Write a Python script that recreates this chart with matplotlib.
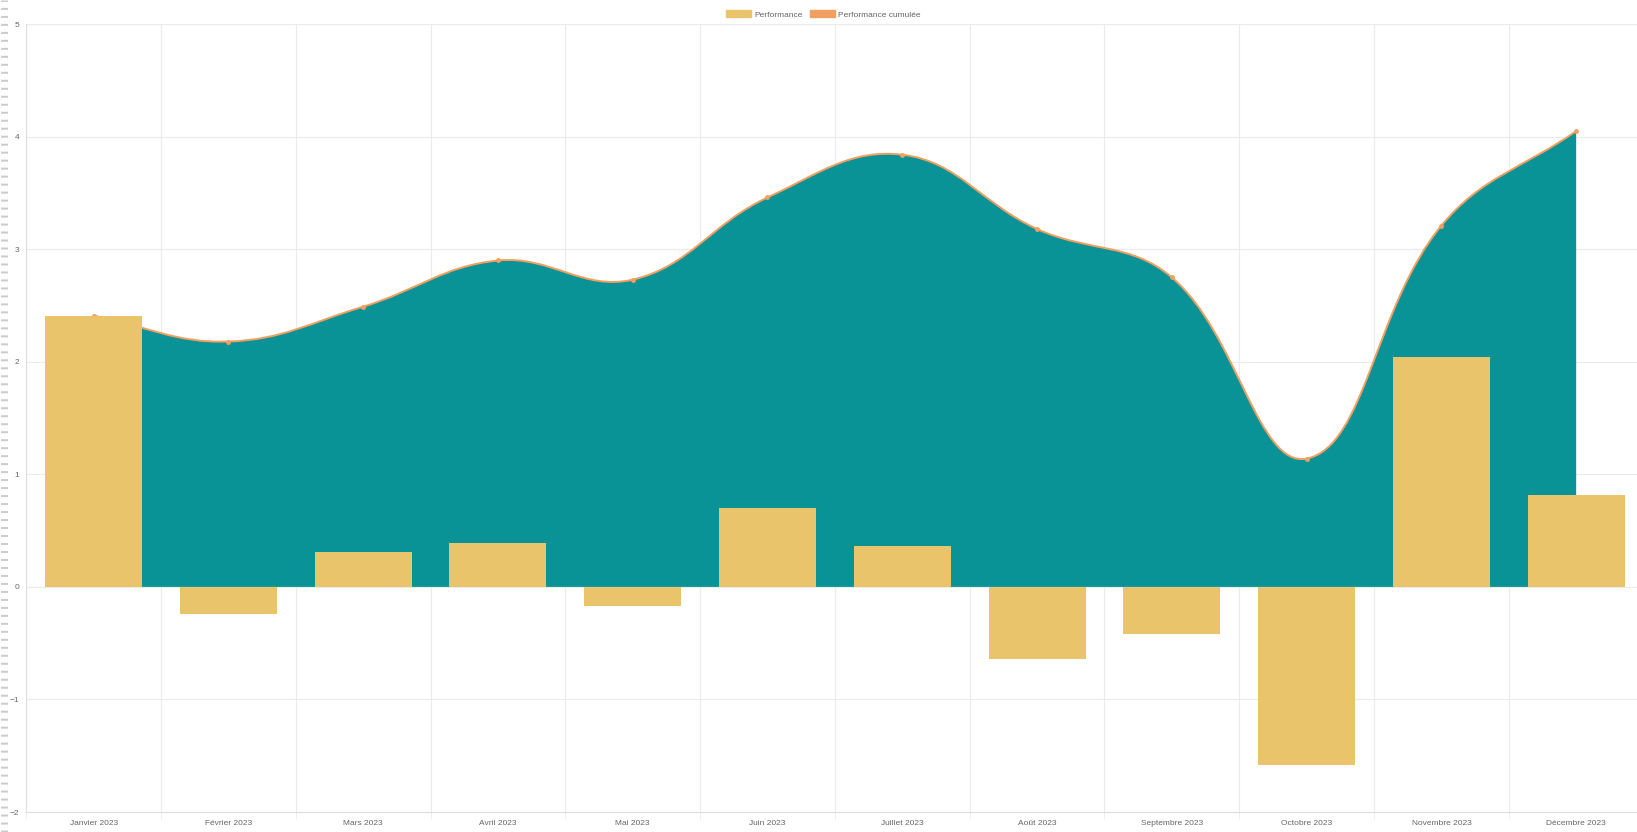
import numpy as np
import matplotlib
matplotlib.use("Agg")
import matplotlib.pyplot as plt
from matplotlib.path import Path
from matplotlib.patches import PathPatch, Patch
from matplotlib.lines import Line2D

mois = ["Janvier 2023", "Février 2023", "Mars 2023", "Avril 2023", "Mai 2023", "Juin 2023",
        "Juillet 2023", "Août 2023", "Septembre 2023", "Octobre 2023", "Novembre 2023", "Décembre 2023"]
performance = [2.41, -0.24, 0.31, 0.39, -0.17, 0.70, 0.36, -0.64, -0.42, -1.58, 2.04, 0.82]
cumulee = [2.41, 2.18, 2.49, 2.90, 2.73, 3.46, 3.84, 3.18, 2.75, 1.14, 3.21, 4.05]

c_bar = "#E9C46A"
c_line = "#F2A062"
c_fill = "#0A9396"
c_grid = "#EBEBEB"
c_text = "#666666"

plt.rcParams["font.family"] = ["Liberation Sans", "DejaVu Sans"]

fig = plt.figure(figsize=(16.37, 8.32), dpi=100)
ax_w = 0.988
ax = fig.add_axes([0.016, 0.024, ax_w, 0.947])

x = np.arange(len(mois))
ax.set_xlim(-0.5, len(mois) - 0.5)
ax.set_ylim(-2, 5)

# spline type chart.js (tension 0.4), distances calculées en pixels
sx = ax_w * 1637 / len(mois)
sy = 0.947 * 832 / 7
pts = np.column_stack([x * sx, np.array(cumulee) * sy])
t = 0.4
cps = []
for i in range(len(pts)):
    prev = pts[max(i - 1, 0)]
    cur = pts[i]
    nxt = pts[min(i + 1, len(pts) - 1)]
    d01 = np.hypot(*(cur - prev))
    d12 = np.hypot(*(nxt - cur))
    tot = d01 + d12
    s01 = d01 / tot if tot else 0
    s12 = d12 / tot if tot else 0
    cps.append((cur - t * s01 * (nxt - prev), cur + t * s12 * (nxt - prev)))

verts = [pts[0]]
codes = [Path.MOVETO]
for i in range(len(pts) - 1):
    verts += [cps[i][1], cps[i + 1][0], pts[i + 1]]
    codes += [Path.CURVE4] * 3
verts = np.array(verts) / np.array([sx, sy])

curve = Path(verts, codes)
fill_verts = np.vstack([verts, [[x[-1], 0], [x[0], 0], verts[0]]])
fill_codes = codes + [Path.LINETO, Path.LINETO, Path.CLOSEPOLY]
ax.add_patch(PathPatch(Path(fill_verts, fill_codes), facecolor=c_fill, edgecolor="none", zorder=2))
ax.add_patch(PathPatch(curve, facecolor="none", edgecolor=c_line, lw=1.4, zorder=3))
ax.plot(x, cumulee, "o", ms=2.5, color=c_line, zorder=4)

ax.bar(x, performance, width=0.72, color=c_bar, zorder=5)

# grilles
ax.set_yticks(range(-2, 6))
ax.set_xticks(x)
ax.set_xticklabels(mois)
ax.set_xticks(np.arange(-0.5, len(mois)), minor=True)
ax.grid(False)
for b in np.arange(0.5, len(mois) - 0.5):
    ax.axvline(b, color=c_grid, lw=0.8, zorder=1)
for v in range(-1, 6):
    ax.axhline(v, color=c_grid, lw=0.8, zorder=1)
ax.tick_params(axis="x", which="major", length=0, labelsize=6, colors=c_text, pad=6)
ax.tick_params(axis="x", which="minor", length=5, color=c_grid)
ax.tick_params(axis="y", length=0, labelsize=6, colors=c_text, pad=5)
for s in ["top", "right"]:
    ax.spines[s].set_visible(False)
for s in ["left", "bottom"]:
    ax.spines[s].set_color("#DDDDDD")
    ax.spines[s].set_linewidth(0.8)

handles = [Patch(facecolor=c_bar, edgecolor=c_bar),
           Patch(facecolor=c_line, edgecolor=c_line)]
fig.legend(handles, ["Performance", "Performance cumulée"], loc="upper center",
           bbox_to_anchor=(0.503, 0.997), ncol=2, frameon=False, fontsize=6,
           handlelength=3.0, handleheight=1.0, handletextpad=0.4, columnspacing=0.8,
           labelcolor=c_text)

# tirets sur le bord gauche
fig.add_artist(Line2D([0.0025, 0.0025], [0, 1], transform=fig.transFigure, color="#CCCCCC",
                      lw=5, dashes=(0.29, 0.86), solid_capstyle="butt", dash_capstyle="butt"))

fig.savefig("out.png", dpi=100, facecolor="white")
